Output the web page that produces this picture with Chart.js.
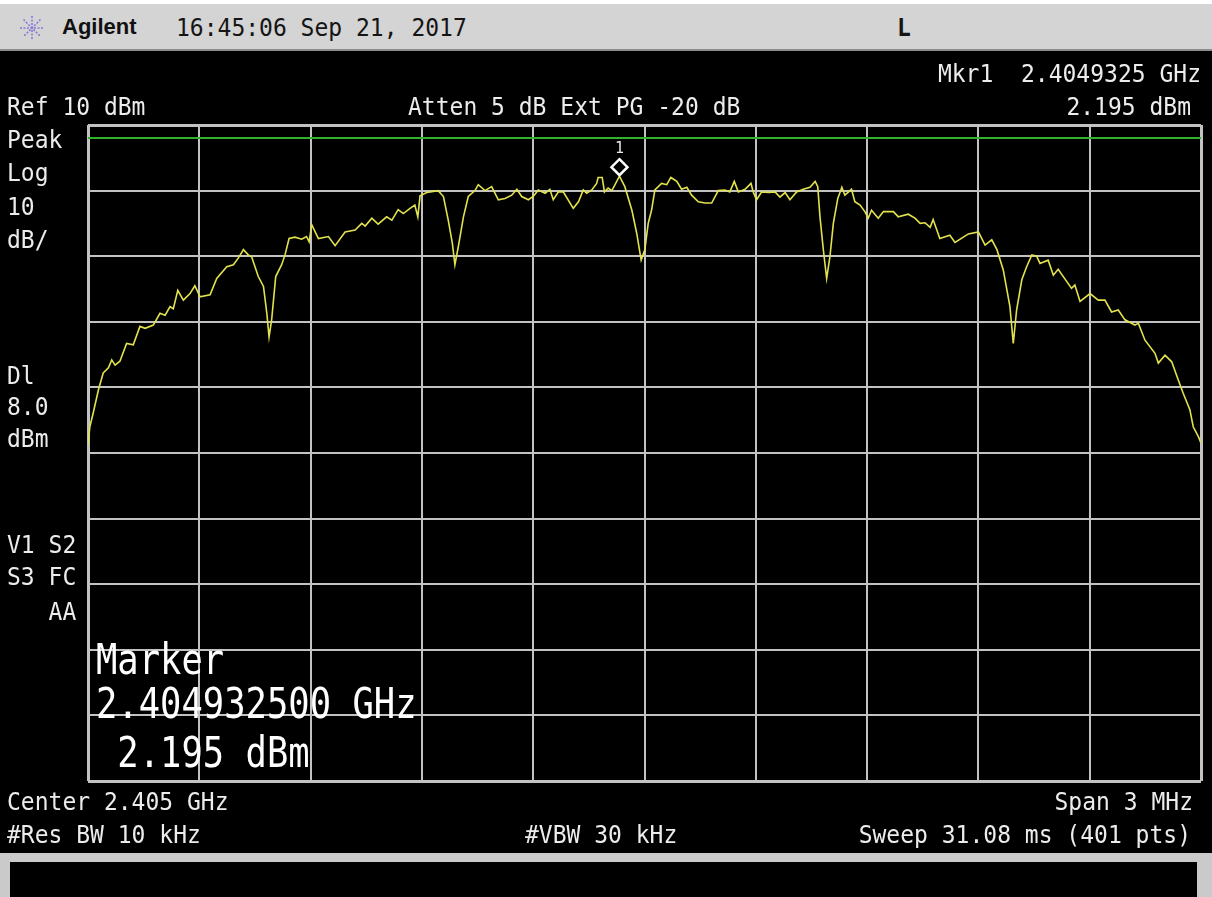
<!DOCTYPE html>
<html>
<head>
<meta charset="utf-8">
<script src="https://cdn.jsdelivr.net/npm/chart.js@4.4.0/dist/chart.umd.min.js"></script>
<style>
  html, body { margin: 0; padding: 0; background: #fff; }
  #screen { position: relative; width: 1212px; height: 897px; overflow: hidden; background: #fff; }
  .topbar { position: absolute; left: 0; top: 4px; width: 1212px; height: 45px; background: #d4d4d4; border-bottom: 2px solid #8c8c8c; }
  .black { position: absolute; left: 0; top: 51px; width: 1212px; height: 802px; background: #000; }
  .foot { position: absolute; left: 0; top: 853px; width: 1212px; height: 44px; background: #cacaca; }
  .footbox { position: absolute; left: 10px; top: 862px; width: 1187px; height: 35px; background: #000; }
  #trace { position: absolute; left: 0; top: 0; }
  .t { position: absolute; font-family: "DejaVu Sans Mono", monospace; font-size: 23px; line-height: 24px;
       color: #ececec; white-space: pre; transform: scaleY(1.08); transform-origin: 0 50%; }
  .dark { color: #151515; }
  .brand { position: absolute; left: 62px; top: 15px; font-family: "Liberation Sans", Arial, sans-serif;
           font-weight: bold; font-size: 22px; line-height: 24px; color: #111; }
  .big { position: absolute; font-family: "DejaVu Sans Mono", monospace; font-size: 35.5px; line-height: 40px;
         color: #fff; white-space: pre; transform: scaleY(1.18); transform-origin: 0 50%; }
</style>
</head>
<body>
<div id="screen">
  <div class="topbar"></div>
  <div class="black"></div>
  <div class="foot"></div>
  <div class="footbox"></div>

  <svg style="position:absolute;left:19px;top:15px" width="26" height="26" viewBox="0 0 26 26">
    <g stroke="#8479d6" stroke-width="1.6" stroke-dasharray="2 1.5">
      <line x1="13" y1="1" x2="13" y2="25"/>
      <line x1="1" y1="13" x2="25" y2="13"/>
      <line x1="4.5" y1="4.5" x2="21.5" y2="21.5"/>
      <line x1="21.5" y1="4.5" x2="4.5" y2="21.5"/>
    </g>
  </svg>
  <div class="brand">Agilent</div>
  <div class="t dark" style="left:176px;top:15px">16:45:06 Sep 21, 2017</div>
  <div class="t dark" style="left:897px;top:15px;font-weight:bold">L</div>

  <canvas id="trace" width="1212" height="897"></canvas>

  <div class="t" style="right:11px;top:61px">Mkr1  2.4049325 GHz</div>
  <div class="t" style="left:7px;top:94px">Ref 10 dBm</div>
  <div class="t" style="left:408px;top:94px">Atten 5 dB Ext PG -20 dB</div>
  <div class="t" style="right:21px;top:94px">2.195 dBm</div>

  <div class="t" style="left:7px;top:127px">Peak</div>
  <div class="t" style="left:7px;top:160px">Log</div>
  <div class="t" style="left:7px;top:194px">10</div>
  <div class="t" style="left:7px;top:227px">dB/</div>
  <div class="t" style="left:7px;top:363px">Dl</div>
  <div class="t" style="left:7px;top:394px">8.0</div>
  <div class="t" style="left:7px;top:426px">dBm</div>
  <div class="t" style="left:7px;top:532px">V1 S2</div>
  <div class="t" style="left:7px;top:564px">S3 FC</div>
  <div class="t" style="left:7px;top:599px">   AA</div>

  <div class="big" style="left:96px;top:640px">Marker</div>
  <div class="big" style="left:96px;top:684px">2.404932500 GHz</div>
  <div class="big" style="left:96px;top:733px"> 2.195 dBm</div>

  <div class="t" style="left:7px;top:789px">Center 2.405 GHz</div>
  <div class="t" style="right:19px;top:789px">Span 3 MHz</div>
  <div class="t" style="left:7px;top:822px">#Res BW 10 kHz</div>
  <div class="t" style="left:525px;top:822px">#VBW 30 kHz</div>
  <div class="t" style="right:21px;top:822px">Sweep 31.08 ms (401 pts)</div>
</div>

<script>
// analyzer settings
const SPAN_MHZ = 3;            // x axis: MHz from start of span (2.4035 GHz)
const REF_LEVEL = 10;
const DB_PER_DIV = 10;
const DIVISIONS = 10;
const displayLineDbm = 8.0;
const markerFreqMHz = 1.4325;  // 2.4049325 GHz
const markerDbm = 2.195;

// trace
const freqMHz = [
  0.000, 0.005, 0.014, 0.028, 0.041, 0.055, 0.064, 0.073, 0.086, 0.104,
  0.122, 0.140, 0.154, 0.176, 0.194, 0.208, 0.221, 0.230, 0.242, 0.257,
  0.275, 0.288, 0.302, 0.329, 0.347, 0.374, 0.392, 0.405, 0.419, 0.432,
  0.441, 0.459, 0.473, 0.482, 0.488, 0.495, 0.506, 0.522, 0.531, 0.542,
  0.558, 0.576, 0.589, 0.596, 0.603, 0.621, 0.648, 0.666, 0.693, 0.720,
  0.738, 0.747, 0.765, 0.782, 0.805, 0.819, 0.836, 0.850, 0.868, 0.881,
  0.889, 0.895, 0.913, 0.944, 0.958, 0.971, 0.982, 0.989, 0.998, 1.012,
  1.025, 1.043, 1.052, 1.070, 1.088, 1.106, 1.124, 1.142, 1.156, 1.169,
  1.187, 1.200, 1.214, 1.232, 1.245, 1.254, 1.268, 1.281, 1.308, 1.322,
  1.335, 1.344, 1.358, 1.371, 1.375, 1.386, 1.392, 1.402, 1.412, 1.4325,
  1.447, 1.466, 1.479, 1.491, 1.501, 1.510, 1.519, 1.528, 1.546, 1.560,
  1.571, 1.587, 1.600, 1.614, 1.627, 1.645, 1.663, 1.681, 1.699, 1.717,
  1.730, 1.742, 1.753, 1.771, 1.787, 1.793, 1.802, 1.816, 1.834, 1.852,
  1.865, 1.879, 1.892, 1.910, 1.928, 1.946, 1.960, 1.967, 1.973, 1.982,
  1.991, 2.000, 2.009, 2.021, 2.032, 2.040, 2.058, 2.067, 2.081, 2.094,
  2.103, 2.112, 2.130, 2.144, 2.171, 2.184, 2.211, 2.229, 2.243, 2.256,
  2.270, 2.278, 2.296, 2.323, 2.337, 2.373, 2.400, 2.418, 2.436, 2.450,
  2.467, 2.485, 2.494, 2.503, 2.517, 2.530, 2.544, 2.557, 2.566, 2.588,
  2.602, 2.615, 2.651, 2.660, 2.674, 2.701, 2.723, 2.741, 2.759, 2.777,
  2.795, 2.822, 2.831, 2.849, 2.876, 2.885, 2.903, 2.921, 2.939, 2.952,
  2.970, 2.979, 2.993, 3.000
];
const levelDbm = [
  -38.8, -36.0, -33.9, -30.4, -27.8, -27.0, -25.8, -26.6, -26.0, -23.3,
  -23.5, -20.7, -21.0, -20.5, -18.7, -19.0, -17.7, -18.0, -15.2, -16.7,
  -15.7, -14.5, -16.2, -15.9, -13.4, -11.6, -11.3, -10.3, -9.0, -9.8,
  -10.1, -13.1, -14.6, -18.7, -22.3, -19.7, -13.1, -11.3, -9.8, -7.3,
  -7.1, -7.4, -7.0, -7.8, -5.2, -7.3, -7.0, -8.4, -6.3, -6.0,
  -5.0, -5.4, -4.2, -5.1, -4.0, -4.5, -2.9, -3.5, -2.7, -2.2,
  -4.0, -0.8, -0.3, 0.0, -0.9, -4.5, -8.0, -11.3, -8.6, -4.0,
  -0.9, 0.0, 0.9, 0.0, 0.6, -1.4, -1.2, -0.7, 0.2, -0.9,
  -1.4, -0.9, 0.1, -0.4, 0.2, -1.4, -0.2, -0.2, -2.7, -1.7,
  0.1, -0.4, 0.1, 1.1, 2.0, 2.0, -0.2, 0.4, 0.0, 2.195,
  0.6, -3.0, -6.5, -10.6, -9.0, -5.0, -3.0, 0.1, 1.1, 0.9,
  2.0, 1.4, 0.2, 0.5, -0.7, -1.7, -1.9, -1.9, 0.0, 0.1,
  -0.2, 1.4, -0.2, 0.2, 1.1, -0.2, -1.4, -0.2, -0.3, -0.2,
  -1.0, -0.3, -1.4, -0.2, 0.2, 0.5, 1.4, 0.6, -4.0, -9.0,
  -13.4, -10.0, -5.0, -1.2, 0.5, -0.7, 0.2, -1.7, -2.2, -3.2,
  -4.2, -3.0, -4.2, -3.2, -3.2, -4.0, -3.6, -4.2, -5.0, -4.9,
  -5.6, -4.4, -7.3, -6.8, -7.9, -6.6, -6.3, -8.3, -7.5, -9.0,
  -12.1, -17.7, -23.3, -18.2, -13.6, -11.6, -9.8, -10.0, -11.1, -10.6,
  -12.9, -12.0, -14.9, -14.4, -16.9, -15.7, -16.7, -16.7, -18.5, -18.2,
  -19.7, -20.5, -20.2, -22.8, -24.8, -26.3, -25.1, -26.1, -28.9, -30.9,
  -33.4, -36.0, -37.5, -38.5
];

const bottomLevel = REF_LEVEL - DB_PER_DIV * DIVISIONS;
const xGrid = [];
const yGrid = [];
for (let i = 0; i <= DIVISIONS; i++) {
  xGrid.push(SPAN_MHZ * i / DIVISIONS);
  yGrid.push(bottomLevel + DB_PER_DIV * i);
}

const gridStyle = {
  color: '#c2c2c2',
  lineWidth: c => (c.index === 0 || c.index === DIVISIONS) ? 3 : 2,
  drawTicks: false
};

const markerPlugin = {
  id: 'marker',
  afterDatasetsDraw(chart) {
    const { ctx, scales: { x, y } } = chart;
    const px = x.getPixelForValue(markerFreqMHz);
    const py = y.getPixelForValue(markerDbm);
    const r = 8;
    const cy = py - r - 1;
    ctx.save();
    ctx.strokeStyle = '#ffffff';
    ctx.lineWidth = 2.5;
    ctx.beginPath();
    ctx.moveTo(px, cy - r);
    ctx.lineTo(px + r, cy);
    ctx.lineTo(px, cy + r);
    ctx.lineTo(px - r, cy);
    ctx.closePath();
    ctx.stroke();
    ctx.fillStyle = '#e8e8e8';
    ctx.font = '15px "DejaVu Sans Mono"';
    ctx.textAlign = 'center';
    ctx.fillText('1', px, cy - r - 6);
    ctx.restore();
  }
};

const ctx = document.getElementById('trace').getContext('2d');
const chart = new Chart(ctx, {
  type: 'line',
  data: {
    datasets: [{
      label: 'Trace',
      data: freqMHz.map((f, i) => ({ x: f, y: levelDbm[i] })),
      borderColor: '#e2e24e',
      borderWidth: 1.6,
      pointRadius: 0,
      tension: 0
    }, {
      label: 'Display line',
      data: [{ x: 0, y: displayLineDbm }, { x: SPAN_MHZ, y: displayLineDbm }],
      borderColor: '#2db42d',
      borderWidth: 2,
      pointRadius: 0
    }]
  },
  options: {
    responsive: false,
    animation: false,
    layout: { padding: { left: 88, top: 125, right: 11, bottom: 116 } },
    plugins: {
      legend: { display: false },
      tooltip: { enabled: false }
    },
    scales: {
      x: {
        type: 'linear',
        min: 0,
        max: SPAN_MHZ,
        ticks: { display: false },
        grid: gridStyle,
        border: { display: false },
        afterBuildTicks: s => { s.ticks = xGrid.map(v => ({ value: v })); },
        afterFit: s => { s.height = 0; }
      },
      y: {
        min: bottomLevel,
        max: REF_LEVEL,
        ticks: { display: false },
        grid: gridStyle,
        border: { display: false },
        afterBuildTicks: s => { s.ticks = yGrid.map(v => ({ value: v })); },
        afterFit: s => { s.width = 0; }
      }
    }
  },
  plugins: [markerPlugin]
});
</script>
</body>
</html>
